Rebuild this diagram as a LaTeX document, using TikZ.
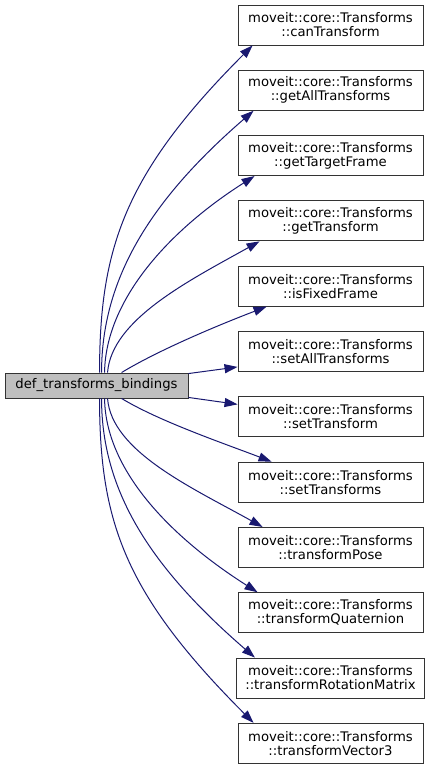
\documentclass[tikz,border=0pt]{standalone}
\usepackage{fontspec}
\setmainfont{DejaVu Sans}
\usetikzlibrary{positioning, arrows.meta}
\definecolor{edgeblue}{HTML}{191970}
\definecolor{rootgray}{HTML}{BFBFBF}

\begin{document}
\begin{tikzpicture}[
        x=1pt, y=-1pt,
        node distance=24.4pt,
        func/.style={rectangle, draw=black!80, fill=white, line width=0.9pt, minimum width=185pt, minimum height=40pt, inner xsep=9pt, align=center, font=\fontsize{13.2}{14}\selectfont},
        rootbox/.style={rectangle, draw=black!80, fill=rootgray, line width=0.9pt, minimum width=183pt, minimum height=25pt, font=\fontsize{13.2}{14}\selectfont},
        call/.style={-{Triangle[length=13pt, width=9pt]}, edgeblue, line width=1pt}
    ]
        \useasboundingbox (0,0) rectangle (432,771);

        % Caller
        \node[rootbox] (root) at (96.5,385.5) {def\_transforms\_bindings};

        % Callees
        \node[func] (can) at (330.5,25) {moveit::core::Transforms\\::canTransform};
        \node[func, below=of can] (getall) {moveit::core::Transforms\\::getAllTransforms};
        \node[func, below=of getall] (target) {moveit::core::Transforms\\::getTargetFrame};
        \node[func, below=of target] (gettr) {moveit::core::Transforms\\::getTransform};
        \node[func, below=of gettr] (fixed) {moveit::core::Transforms\\::isFixedFrame};
        \node[func, below=of fixed] (setall) {moveit::core::Transforms\\::setAllTransforms};
        \node[func, below=of setall] (settr) {moveit::core::Transforms\\::setTransform};
        \node[func, below=of settr] (settrs) {moveit::core::Transforms\\::setTransforms};
        \node[func, below=of settrs] (pose) {moveit::core::Transforms\\::transformPose};
        \node[func, below=of pose] (quat) {moveit::core::Transforms\\::transformQuaternion};
        \node[func, below=of quat] (rotmat) {moveit::core::Transforms\\::transformRotationMatrix};
        \node[func, below=of rotmat] (vec) {moveit::core::Transforms\\::transformVector3};

        % Calls upwards
        \draw[call] ([xshift=95pt]root.north west) .. controls +(0,-123) and +(-129,129) .. ([xshift=15pt]can.south west);
        \draw[call] ([xshift=97pt]root.north west) .. controls +(0,-93) and +(-104,90) .. ([xshift=16pt]getall.south west);
        \draw[call] ([xshift=100pt]root.north west) .. controls +(1,-73) and +(-85,54) .. ([xshift=17pt]target.south west);
        \draw[call] ([xshift=103pt]root.north west) .. controls +(4,-53) and +(-70,39) .. ([xshift=22pt]gettr.south west);
        \draw[call] ([xshift=117pt]root.north west) .. controls +(38,-23) and +(-47,18) .. ([xshift=29pt]fixed.south west);
        \draw[call] ([yshift=-1pt]root.north east) -- ([yshift=5pt]setall.south west);

        % Calls downwards
        \draw[call] ([yshift=1pt]root.south east) -- ([yshift=-8pt]settr.north west);
        \draw[call] ([xshift=117pt]root.south west) .. controls +(38,23) and +(-47,-18) .. ([xshift=34pt]settrs.north west);
        \draw[call] ([xshift=103pt]root.south west) .. controls +(4,53) and +(-70,-39) .. ([xshift=25pt]pose.north west);
        \draw[call] ([xshift=100pt]root.south west) .. controls +(1,73) and +(-85,-54) .. ([xshift=20pt]quat.north west);
        \draw[call] ([xshift=97pt]root.south west) .. controls +(0,93) and +(-104,-90) .. ([xshift=19pt]rotmat.north west);
        \draw[call] ([xshift=95pt]root.south west) .. controls +(0,123) and +(-129,-129) .. ([xshift=16pt]vec.north west);
    \end{tikzpicture}
\end{document}
